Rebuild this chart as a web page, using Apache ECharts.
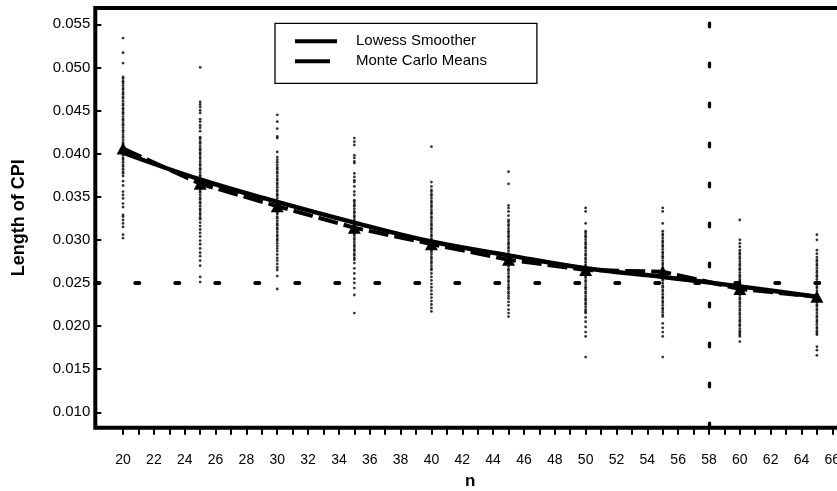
<!DOCTYPE html>
<html><head><meta charset="utf-8">
<script src="https://cdn.jsdelivr.net/npm/echarts@6/dist/echarts.min.js"></script>
<style>html,body{margin:0;padding:0;background:#fff}#chart{width:837px;height:491px}</style>
</head><body><div id="chart"></div>
<script>
// ---- data ----
const sampleSizes = [20, 25, 30, 35, 40, 45, 50, 55, 60, 65];
const lowessValues = [0.0401, 0.0370, 0.0344, 0.0320, 0.0298, 0.0282, 0.0267, 0.0257, 0.0246, 0.0234];
const monteCarloMeans = [0.0406, 0.0365, 0.0339, 0.0314, 0.0295, 0.0277, 0.0265, 0.0263, 0.0243, 0.0234];

const samples20 = [0.0534, 0.0517, 0.0505, 0.0489, 0.0487, 0.0484, 0.0482, 0.0479, 0.0476, 0.0474, 0.0471, 0.0469, 0.0466, 0.0464, 0.0461, 0.0458, 0.0456, 0.0453, 0.0451, 0.0448, 0.0446, 0.0443, 0.0440, 0.0438, 0.0435, 0.0433, 0.0430, 0.0427, 0.0425, 0.0422, 0.0419, 0.0416, 0.0413, 0.0411, 0.0408, 0.0406, 0.0403, 0.0400, 0.0398, 0.0395, 0.0393, 0.0390, 0.0387, 0.0385, 0.0382, 0.0379, 0.0377, 0.0374, 0.0368, 0.0363, 0.0356, 0.0352, 0.0348, 0.0342, 0.0338, 0.0329, 0.0327, 0.0323, 0.0319, 0.0315, 0.0306, 0.0302];
const samples25 = [0.0500, 0.0460, 0.0457, 0.0454, 0.0450, 0.0447, 0.0440, 0.0437, 0.0433, 0.0430, 0.0426, 0.0419, 0.0417, 0.0414, 0.0412, 0.0409, 0.0406, 0.0404, 0.0401, 0.0399, 0.0396, 0.0394, 0.0391, 0.0388, 0.0386, 0.0383, 0.0381, 0.0378, 0.0375, 0.0373, 0.0370, 0.0368, 0.0365, 0.0362, 0.0360, 0.0357, 0.0355, 0.0352, 0.0349, 0.0347, 0.0344, 0.0342, 0.0339, 0.0336, 0.0334, 0.0331, 0.0329, 0.0326, 0.0324, 0.0320, 0.0316, 0.0312, 0.0308, 0.0304, 0.0299, 0.0295, 0.0290, 0.0285, 0.0281, 0.0276, 0.0270, 0.0257, 0.0251];
const samples30 = [0.0445, 0.0437, 0.0429, 0.0420, 0.0418, 0.0402, 0.0396, 0.0393, 0.0390, 0.0387, 0.0384, 0.0382, 0.0379, 0.0377, 0.0374, 0.0371, 0.0369, 0.0366, 0.0364, 0.0361, 0.0358, 0.0356, 0.0353, 0.0351, 0.0348, 0.0345, 0.0343, 0.0340, 0.0338, 0.0335, 0.0332, 0.0330, 0.0327, 0.0325, 0.0322, 0.0319, 0.0317, 0.0314, 0.0312, 0.0309, 0.0306, 0.0304, 0.0301, 0.0299, 0.0296, 0.0293, 0.0290, 0.0287, 0.0283, 0.0279, 0.0276, 0.0272, 0.0268, 0.0265, 0.0258, 0.0243];
const samples35 = [0.0418, 0.0414, 0.0410, 0.0398, 0.0395, 0.0391, 0.0389, 0.0377, 0.0373, 0.0369, 0.0367, 0.0362, 0.0356, 0.0352, 0.0346, 0.0344, 0.0341, 0.0339, 0.0336, 0.0333, 0.0331, 0.0328, 0.0326, 0.0323, 0.0320, 0.0318, 0.0315, 0.0313, 0.0310, 0.0307, 0.0305, 0.0302, 0.0300, 0.0297, 0.0294, 0.0292, 0.0289, 0.0287, 0.0284, 0.0282, 0.0279, 0.0277, 0.0273, 0.0267, 0.0261, 0.0255, 0.0250, 0.0244, 0.0236, 0.0215];
const samples40 = [0.0408, 0.0367, 0.0362, 0.0358, 0.0356, 0.0353, 0.0351, 0.0348, 0.0345, 0.0343, 0.0340, 0.0338, 0.0335, 0.0332, 0.0330, 0.0327, 0.0325, 0.0322, 0.0319, 0.0317, 0.0314, 0.0312, 0.0309, 0.0306, 0.0304, 0.0301, 0.0299, 0.0296, 0.0293, 0.0291, 0.0288, 0.0286, 0.0283, 0.0280, 0.0278, 0.0275, 0.0273, 0.0270, 0.0267, 0.0265, 0.0261, 0.0257, 0.0253, 0.0249, 0.0245, 0.0241, 0.0237, 0.0233, 0.0229, 0.0225, 0.0221, 0.0217];
const samples45 = [0.0379, 0.0365, 0.0340, 0.0337, 0.0333, 0.0328, 0.0323, 0.0321, 0.0318, 0.0316, 0.0313, 0.0310, 0.0308, 0.0305, 0.0303, 0.0300, 0.0297, 0.0295, 0.0292, 0.0290, 0.0287, 0.0284, 0.0282, 0.0279, 0.0277, 0.0274, 0.0271, 0.0269, 0.0266, 0.0264, 0.0261, 0.0258, 0.0256, 0.0253, 0.0251, 0.0248, 0.0245, 0.0243, 0.0240, 0.0238, 0.0235, 0.0232, 0.0228, 0.0224, 0.0219, 0.0215, 0.0211];
const samples50 = [0.0337, 0.0333, 0.0319, 0.0310, 0.0308, 0.0305, 0.0303, 0.0300, 0.0297, 0.0295, 0.0292, 0.0290, 0.0287, 0.0284, 0.0282, 0.0279, 0.0277, 0.0274, 0.0271, 0.0269, 0.0266, 0.0264, 0.0261, 0.0258, 0.0256, 0.0253, 0.0251, 0.0248, 0.0245, 0.0243, 0.0240, 0.0238, 0.0235, 0.0232, 0.0230, 0.0227, 0.0225, 0.0222, 0.0219, 0.0217, 0.0215, 0.0210, 0.0205, 0.0199, 0.0193, 0.0188, 0.0164];
const samples55 = [0.0337, 0.0333, 0.0319, 0.0310, 0.0307, 0.0305, 0.0302, 0.0299, 0.0297, 0.0294, 0.0292, 0.0289, 0.0286, 0.0284, 0.0281, 0.0279, 0.0276, 0.0273, 0.0271, 0.0268, 0.0266, 0.0263, 0.0260, 0.0258, 0.0255, 0.0253, 0.0250, 0.0247, 0.0245, 0.0242, 0.0240, 0.0237, 0.0234, 0.0232, 0.0229, 0.0227, 0.0224, 0.0221, 0.0219, 0.0216, 0.0213, 0.0211, 0.0203, 0.0198, 0.0193, 0.0188, 0.0164];
const samples60 = [0.0323, 0.0300, 0.0296, 0.0292, 0.0288, 0.0285, 0.0283, 0.0280, 0.0278, 0.0275, 0.0272, 0.0270, 0.0267, 0.0265, 0.0262, 0.0259, 0.0257, 0.0254, 0.0252, 0.0249, 0.0246, 0.0244, 0.0241, 0.0239, 0.0236, 0.0233, 0.0231, 0.0228, 0.0226, 0.0223, 0.0220, 0.0218, 0.0215, 0.0213, 0.0210, 0.0207, 0.0205, 0.0202, 0.0200, 0.0197, 0.0194, 0.0192, 0.0190, 0.0188, 0.0182];
const samples65 = [0.0306, 0.0300, 0.0288, 0.0284, 0.0280, 0.0277, 0.0275, 0.0272, 0.0270, 0.0267, 0.0264, 0.0262, 0.0259, 0.0257, 0.0254, 0.0251, 0.0249, 0.0246, 0.0244, 0.0241, 0.0238, 0.0236, 0.0233, 0.0231, 0.0228, 0.0225, 0.0223, 0.0220, 0.0218, 0.0215, 0.0212, 0.0210, 0.0207, 0.0205, 0.0202, 0.0199, 0.0197, 0.0194, 0.0192, 0.0190, 0.0176, 0.0172, 0.0166];

const targetLength = 0.025;
const requiredN = 58;

const yTickValues = [0.010, 0.015, 0.020, 0.025, 0.030, 0.035, 0.040, 0.045, 0.050, 0.055];
const xTickValues = [20, 21, 22, 23, 24, 25, 26, 27, 28, 29, 30, 31, 32, 33, 34, 35, 36, 37, 38, 39, 40, 41, 42, 43, 44, 45, 46, 47, 48, 49, 50, 51, 52, 53, 54, 55, 56, 57, 58, 59, 60, 61, 62, 63, 64, 65, 66];
const xLabelValues = [20, 22, 24, 26, 28, 30, 32, 34, 36, 38, 40, 42, 44, 46, 48, 50, 52, 54, 56, 58, 60, 62, 64, 66];

// ---- build ----
const FONT = '"Liberation Sans", Arial, Helvetica, sans-serif';
const allSamples = [samples20, samples25, samples30, samples35, samples40, samples45, samples50, samples55, samples60, samples65];
const scatterData = [];
sampleSizes.forEach((n, i) => allSamples[i].forEach(v => scatterData.push([n, v])));

const chart = echarts.init(document.getElementById('chart'), null, { renderer: 'canvas' });
chart.setOption({
  animation: false,
  backgroundColor: '#fff',
  grid: { left: 95.3, top: 8, width: 761.7, height: 419.7, outerBoundsMode: 'none', containLabel: false,
          show: true, borderColor: '#000', borderWidth: 4, backgroundColor: 'transparent' },
  legend: {
    orient: 'vertical', left: 275, top: 23.3,
    padding: [8, 50, 12, 20], itemGap: 0, itemWidth: 42, itemHeight: 4,
    borderColor: '#000', borderWidth: 1.3, backgroundColor: '#fff',
    textStyle: { fontSize: 15, fontFamily: FONT, color: '#000', lineHeight: 20, padding: [0, 0, 0, 14] },
    data: [
      { name: 'Lowess Smoother', icon: 'path://M0,0H42V4H0Z' },
      { name: 'Monte Carlo Means', icon: 'path://M0,0H35V4H0Z M41.9,0H42V0.1H41.9Z' }
    ]
  },
  xAxis: {
    type: 'value', min: 18.2, max: 67.6,
    name: 'n', nameLocation: 'middle', nameGap: 45,
    nameTextStyle: { fontSize: 17, fontWeight: 'bold', fontFamily: FONT, color: '#000', padding: [0, 12, 0, 0] },
    axisLine: { show: false }, splitLine: { show: false },
    axisTick: { show: true, inside: false, length: 7, lineStyle: { color: '#000', width: 2 }, customValues: xTickValues },
    axisLabel: { customValues: xLabelValues, margin: 25, fontSize: 14, color: '#000', fontFamily: FONT }
  },
  yAxis: {
    type: 'value', min: 0.00821, max: 0.05689,
    name: 'Length of CPI', nameLocation: 'middle', nameGap: 67,
    nameTextStyle: { fontSize: 18, fontWeight: 'bold', fontFamily: FONT, color: '#000' },
    axisLine: { show: false }, splitLine: { show: false },
    axisTick: { show: true, inside: true, length: 6, lineStyle: { color: '#000', width: 2 }, customValues: yTickValues },
    axisLabel: { customValues: yTickValues, margin: 5, fontSize: 15, color: '#000', fontFamily: FONT, formatter: v => v.toFixed(3) }
  },
  series: [
    {
      type: 'scatter', name: 'samples', data: scatterData, symbol: 'circle', symbolSize: 2.8,
      itemStyle: { color: '#000' }, silent: true, z: 1,
      markLine: {
        silent: true, symbol: 'none', animation: false, precision: 6, label: { show: false },
        emphasis: { disabled: true },
        data: [
          { yAxis: targetLength, lineStyle: { color: '#000', type: [4, 36], width: 4, cap: 'round' } },
          { xAxis: requiredN, lineStyle: { color: '#000', type: [3.7, 36.3], dashOffset: 39.15, width: 3.3, cap: 'round' } }
        ]
      }
    },
    {
      type: 'line', name: 'Lowess Smoother', data: sampleSizes.map((n, i) => [n, lowessValues[i]]),
      smooth: 0.4, symbol: 'none', showSymbol: false, z: 3,
      lineStyle: { color: '#000', width: 4.5 }, itemStyle: { color: '#000' }
    },
    {
      type: 'line', name: 'Monte Carlo Means', data: sampleSizes.map((n, i) => [n, monteCarloMeans[i]]),
      symbol: 'triangle', symbolSize: [13, 12], z: 4,
      lineStyle: { color: '#000', width: 4, type: [20, 6] }, itemStyle: { color: '#000' }
    }
  ]
});
</script></body></html>
